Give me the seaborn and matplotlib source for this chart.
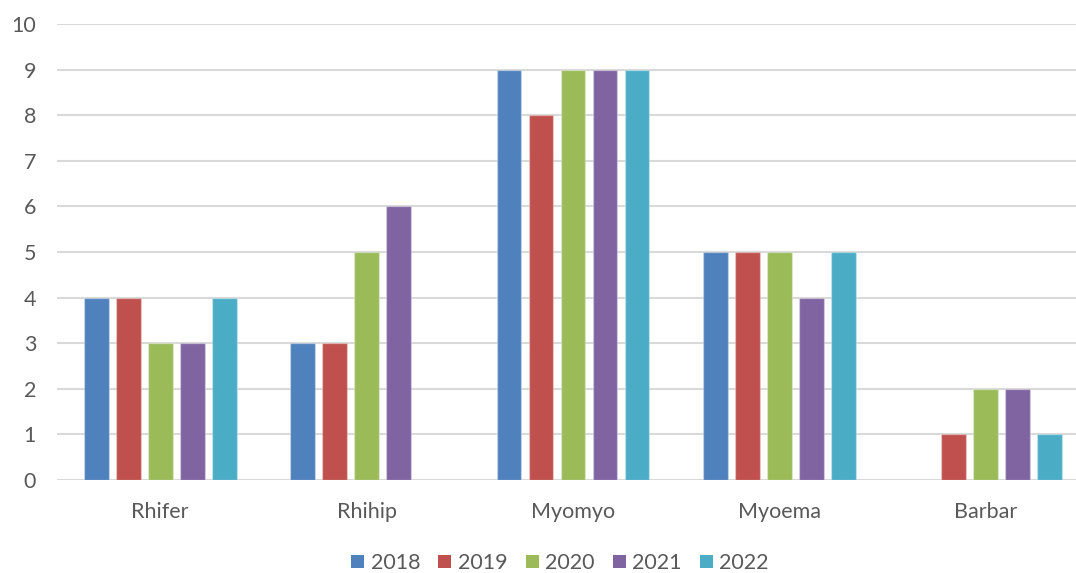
import numpy as np
import pandas as pd
import seaborn as sns
import matplotlib.pyplot as plt
from matplotlib.patches import Patch

# Counts per site and year
categories = ["Rhifer", "Rhihip", "Myomyo", "Myoema", "Barbar"]
years = ["2018", "2019", "2020", "2021", "2022"]
v2018 = [4, 3, 9, 5, np.nan]
v2019 = [4, 3, 8, 5, 1]
v2020 = [3, 5, 9, 5, 2]
v2021 = [3, 6, 9, 4, 2]
v2022 = [4, np.nan, 9, 5, 1]
colors = ["#4F81BD", "#C0504D", "#9BBB59", "#8064A2", "#4BACC6"]

series = [v2018, v2019, v2020, v2021, v2022]
rows = []
for yr, vals in zip(years, series):
    for cat, v in zip(categories, vals):
        rows.append({"site": cat, "year": yr, "count": v})
df = pd.DataFrame(rows).dropna()

sns.set_theme(style="white")
plt.rcParams["font.family"] = ["Lato", "DejaVu Sans"]
text_color = "#595959"
fs = 15.5

fig = plt.figure(figsize=(10.76, 5.73), dpi=100)
ax = fig.add_axes([57 / 1076, 93 / 573, 1032 / 1076, 456 / 573])

sns.barplot(data=df, x="site", y="count", hue="year", order=categories,
            hue_order=years, palette=colors, width=0.775, gap=0.22,
            saturation=1, errorbar=None, legend=False, ax=ax, zorder=3)

for bar in ax.patches:
    bar.set_edgecolor((1, 1, 1, 0.3))
    bar.set_linewidth(1.0)

ax.set_ylim(0, 10)
ax.set_xlim(-0.5, len(categories) - 0.5)
ax.set_yticks(range(0, 11))
ax.yaxis.grid(True, color="#D9D9D9", linewidth=1.5, zorder=0)
ax.set_axisbelow(True)
for s in ax.spines.values():
    s.set_visible(False)
ax.set_xlabel("")
ax.set_ylabel("")
ax.tick_params(axis="y", length=0, pad=15, labelsize=fs, labelcolor=text_color)
ax.tick_params(axis="x", length=0, pad=16, labelsize=fs, labelcolor=text_color)

handles = [Patch(facecolor=c, edgecolor="none") for c in colors]
fig.legend(handles, years, loc="center", bbox_to_anchor=(560 / 1076, 1 - 563 / 573),
           ncol=5, frameon=False, fontsize=fs, labelcolor=text_color,
           handlelength=0.6, handleheight=0.6, handletextpad=0.3,
           columnspacing=0.85)

fig.savefig("out.png", dpi=100)
